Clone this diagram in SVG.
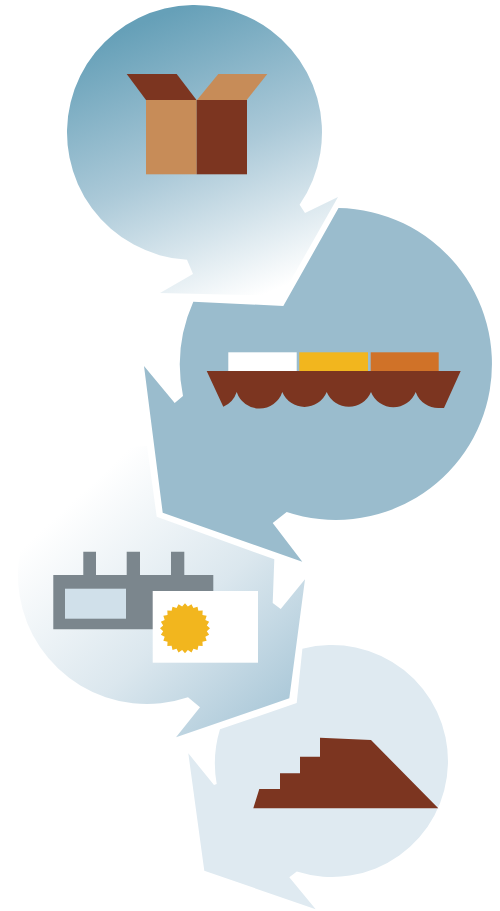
<svg xmlns="http://www.w3.org/2000/svg" width="500" height="911" viewBox="0 0 500 911">
  <style>
    .dark { fill: #7c3520; }
    .tan { fill: #c78c58; }
    .grey { fill: #7b868d; }
    .white { fill: #ffffff; }
    .yellow { fill: #f2b61e; }
  </style>
  <defs>
    <linearGradient id="gradTop" gradientUnits="userSpaceOnUse" x1="150" y1="20" x2="262" y2="295">
      <stop offset="0" stop-color="#66a0b8"/>
      <stop offset="0.5" stop-color="#abc9d8"/>
      <stop offset="1" stop-color="#ffffff"/>
    </linearGradient>
    <linearGradient id="gradFactory" gradientUnits="userSpaceOnUse" x1="85" y1="490" x2="285" y2="705">
      <stop offset="0" stop-color="#ffffff"/>
      <stop offset="0.55" stop-color="#dbe7ee"/>
      <stop offset="1" stop-color="#acc9d9"/>
    </linearGradient>
  </defs>
  <rect width="500" height="911" fill="#ffffff"/>
  <g id="node-box">
    <path fill="url(#gradTop)" d="M299.6 204.7 A127.5 127.5 0 1 0 187 259.8 L193 274 L160 293 L282 296 L338 197 L305 213 Z"/>
    <polygon class="dark" points="126.7,74 176.7,74 196.5,100 146,100"/>
    <polygon class="tan" points="218.3,74 267.3,74 246.7,100 197,100"/>
    <rect class="tan" x="146" y="100" width="50.7" height="74.3"/>
    <rect class="dark" x="196.7" y="100" width="50.3" height="74.3"/>
  </g>
  <g id="node-ship">
    <path fill="#9abccd" d="M338.5 208 A156 156 0 1 1 286.7 512 L272.7 523 L302.3 561.7 L162.7 512.7 L144 366 L174.7 403 L183 396 A156 156 0 0 1 193.3 301.7 L283.3 306 Z"/>
    <rect class="white" x="228.3" y="352.3" width="68.4" height="18.7"/>
    <rect class="yellow" x="299.3" y="352.3" width="68.7" height="18.7"/>
    <rect fill="#d07228" x="370.7" y="352.3" width="68" height="18.7"/>
    <path class="dark" d="M206.7 371 H460.7 L444 408 H440 A24 24 0 0 1 415.7 392 A24 24 0 0 1 371 392 A24 24 0 0 1 326.7 392 A24 24 0 0 1 282.3 392 A24 24 0 0 1 236.7 392 A24 24 0 0 1 223.3 406.7 Z"/>
  </g>
  <g id="node-factory">
    <path fill="url(#gradFactory)" d="M188 697.3 A129 129 0 1 1 147 446 L156.7 516.7 L274.3 559.3 L272.7 603 L280.7 609 L305 579.3 L289.3 698.3 L176 737.3 L200 707.3 Z"/>
    <path class="grey" d="M53.3 575 H83.3 V551.7 H96 V575 H126.7 V551.7 H140 V575 H171 V551.7 H184.3 V575 H213.3 V629.3 H53.3 Z"/>
    <rect fill="#d0e0ea" x="65" y="588.7" width="61" height="30"/>
    <rect class="white" x="152.7" y="591" width="105.3" height="71.7"/>
    <polygon class="yellow" transform="translate(185 628.3)" points="25,0 21.81,2.87 24.15,6.47 20.33,8.42 21.65,12.5 17.45,13.39 17.68,17.68 13.39,17.45 12.5,21.65 8.42,20.33 6.47,24.15 2.87,21.81 0,25 -2.87,21.81 -6.47,24.15 -8.42,20.33 -12.5,21.65 -13.39,17.45 -17.68,17.68 -17.45,13.39 -21.65,12.5 -20.33,8.42 -24.15,6.47 -21.81,2.87 -25,0 -21.81,-2.87 -24.15,-6.47 -20.33,-8.42 -21.65,-12.5 -17.45,-13.39 -17.68,-17.68 -13.39,-17.45 -12.5,-21.65 -8.42,-20.33 -6.47,-24.15 -2.87,-21.81 0,-25 2.87,-21.81 6.47,-24.15 8.42,-20.33 12.5,-21.65 13.39,-17.45 17.68,-17.68 17.45,-13.39 21.65,-12.5 20.33,-8.42 24.15,-6.47 21.81,-2.87"/>
  </g>
  <g id="node-pile">
    <path fill="#dfeaf1" d="M296.8 871.5 A116 116 0 1 0 302.4 648.8 L296.7 703 L220 729.3 A116 116 0 0 0 216.7 784 L214 785 L188.3 753.3 L204.3 870.7 L315.7 909.3 L289.3 877.3 Z"/>
    <polygon class="dark" points="253.3,808.3 259.3,789 280,789 280,773.3 300,773.3 300,756.7 320,756.7 320,737.7 371,740 438.3,808.3"/>
  </g>
  <g id="connectors"></g>
</svg>
